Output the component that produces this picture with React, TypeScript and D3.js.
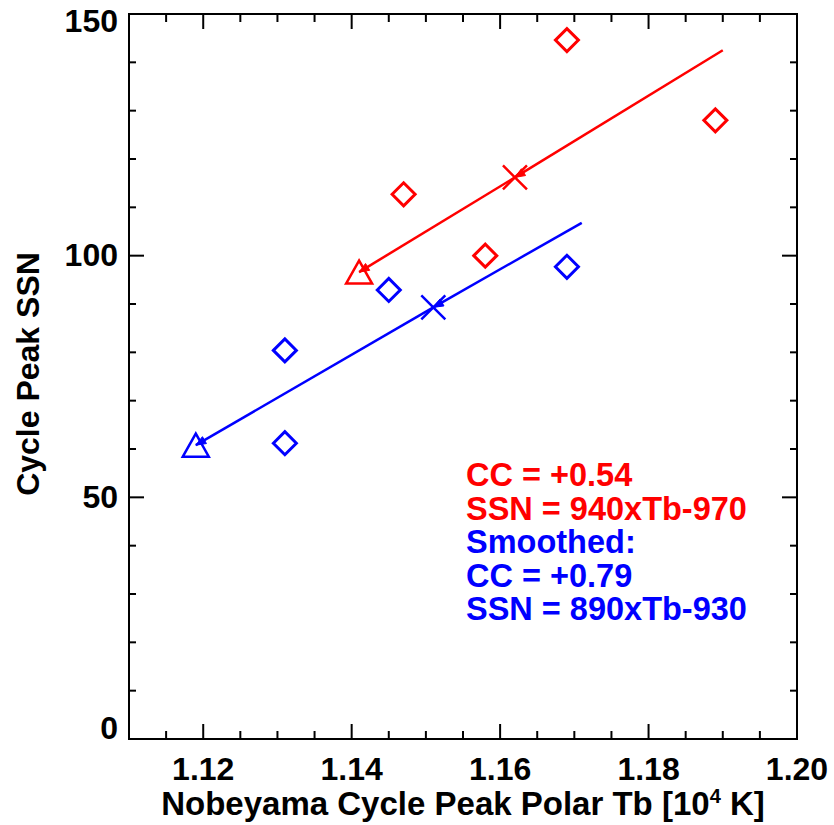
import React from "react";
import * as d3 from "d3";

// Values
const redTb = [1.147, 1.158, 1.169, 1.189];
const redSSN = [112.7, 100.0, 144.6, 128.0];
const blueTb = [1.131, 1.131, 1.145, 1.169];
const blueSSN = [80.4, 61.2, 92.9, 97.7];

// fit line: upper end, mean (X) and lower end (triangle)
const redFitTb = [1.19, 1.162, 1.141];
const redFitSSN = [142.5, 116.2, 96.6];
const blueFitTb = [1.171, 1.151, 1.119];
const blueFitSSN = [106.8, 89.3, 60.8];

const xTicks = [1.12, 1.14, 1.16, 1.18, 1.2];
const yTicks = [0, 50, 100, 150];

const redNotes = ["CC = +0.54", "SSN = 940xTb-970"];
const blueNotes = ["Smoothed:", "CC = +0.79", "SSN = 890xTb-930"];

const W = 834;
const H = 825;
const margin = { top: 14, right: 37, bottom: 86, left: 129 };
const FONT = "'Liberation Sans', Arial, Helvetica, sans-serif";
const RED = "#ff0000";
const BLUE = "#0000ff";

const x = d3.scaleLinear().domain([1.11, 1.2]).range([margin.left, W - margin.right]);
const y = d3.scaleLinear().domain([0, 150]).range([H - margin.bottom, margin.top]);

const xMinor = d3.range(0, 19).map((i) => 1.11 + i * 0.005);
const yMinor = d3.range(0, 16).map((i) => i * 10);

const diamond = (cx: number, cy: number, r = 11.5) =>
  `M${cx - r},${cy}L${cx},${cy - r}L${cx + r},${cy}L${cx},${cy + r}Z`;

const triangle = (cx: number, cy: number) =>
  `M${cx - 13},${cy + 11.5}L${cx},${cy - 11.5}L${cx + 13},${cy + 11.5}Z`;

const cross = (cx: number, cy: number, r = 12) =>
  `M${cx - r},${cy - r}L${cx + r},${cy + r}M${cx - r},${cy + r}L${cx + r},${cy - r}`;

const arrowHead = (x0: number, y0: number, x1: number, y1: number) => {
  const a = Math.atan2(y1 - y0, x1 - x0);
  const len = 10;
  const w = 4;
  const bx = x1 - len * Math.cos(a);
  const by = y1 - len * Math.sin(a);
  const px = -Math.sin(a) * w;
  const py = Math.cos(a) * w;
  return `M${x1},${y1}L${bx + px},${by + py}L${bx - px},${by - py}Z`;
};

const FitArrows: React.FC<{ tb: number[]; ssn: number[]; color: string }> = ({ tb, ssn, color }) => {
  const pts = tb.map((t, i) => [x(t), y(ssn[i])] as [number, number]);
  const segs = [
    [pts[0], pts[1]],
    [pts[1], pts[2]],
  ];
  return (
    <g stroke={color} fill={color}>
      {segs.map(([a, b], i) => (
        <g key={i}>
          <line x1={a[0]} y1={a[1]} x2={b[0]} y2={b[1]} strokeWidth={2.5} />
          <path d={arrowHead(a[0], a[1], b[0], b[1])} strokeWidth={1} />
        </g>
      ))}
      <path d={cross(pts[1][0], pts[1][1])} fill="none" strokeWidth={2.5} />
      <path d={triangle(pts[2][0], pts[2][1])} fill="none" strokeWidth={2.5} />
    </g>
  );
};

const App: React.FC = () => {
  const plotTop = margin.top;
  const plotBottom = H - margin.bottom;
  const plotLeft = margin.left;
  const plotRight = W - margin.right;

  return (
    <svg
      width={W}
      height={H}
      style={{ position: "absolute", left: 0, top: 0, background: "#fff" }}
      fontFamily={FONT}
      fontWeight="bold"
    >
      <rect width={W} height={H} fill="#fff" />

      {/* ticks on all four sides */}
      <g stroke="#000" strokeWidth={2}>
        {xMinor.map((t, i) => {
          const major = xTicks.some((m) => Math.abs(m - t) < 1e-6);
          const len = major ? 15 : 8;
          return (
            <g key={i}>
              <line x1={x(t)} x2={x(t)} y1={plotBottom} y2={plotBottom - len} />
              <line x1={x(t)} x2={x(t)} y1={plotTop} y2={plotTop + len} />
            </g>
          );
        })}
        {yMinor.map((t, i) => {
          const major = yTicks.includes(t);
          const len = major ? 15 : 7;
          return (
            <g key={i}>
              <line y1={y(t)} y2={y(t)} x1={plotLeft} x2={plotLeft + len} />
              <line y1={y(t)} y2={y(t)} x1={plotRight} x2={plotRight - len} />
            </g>
          );
        })}
        <rect
          x={plotLeft}
          y={plotTop}
          width={plotRight - plotLeft}
          height={plotBottom - plotTop}
          fill="none"
        />
      </g>

      {/* tick labels */}
      <g fontSize={32} fill="#000">
        {xTicks.map((t) => (
          <text key={t} x={x(t)} y={780} textAnchor="middle">
            {t.toFixed(2)}
          </text>
        ))}
        {yTicks.map((t) => (
          <text
            key={t}
            x={118}
            y={Math.min(Math.max(y(t) + 10.5, plotTop + 18), plotBottom)}
            textAnchor="end"
          >
            {t}
          </text>
        ))}
      </g>

      {/* axis titles */}
      <text x={(plotLeft + plotRight) / 2} y={815} fontSize={33} textAnchor="middle">
        Nobeyama Cycle Peak Polar Tb [10
        <tspan dy={-12} fontSize={20}>
          4
        </tspan>
        <tspan dy={12}> K]</tspan>
      </text>
      <text
        transform="translate(39,374) rotate(-90)"
        fontSize={32}
        textAnchor="middle"
      >
        Cycle Peak SSN
      </text>

      {/* fit arrows */}
      <FitArrows tb={redFitTb} ssn={redFitSSN} color={RED} />
      <FitArrows tb={blueFitTb} ssn={blueFitSSN} color={BLUE} />

      {/* data points */}
      <g fill="none" strokeWidth={3}>
        {redTb.map((t, i) => (
          <path key={`r${i}`} d={diamond(x(t), y(redSSN[i]))} stroke={RED} />
        ))}
        {blueTb.map((t, i) => (
          <path key={`b${i}`} d={diamond(x(t), y(blueSSN[i]))} stroke={BLUE} />
        ))}
      </g>

      {/* annotation */}
      <g fontSize={32.5}>
        {redNotes.map((s, i) => (
          <text key={`rn${i}`} x={466} y={486 + i * 33.5} fill={RED}>
            {s}
          </text>
        ))}
        {blueNotes.map((s, i) => (
          <text key={`bn${i}`} x={466} y={486 + (i + 2) * 33.5} fill={BLUE}>
            {s}
          </text>
        ))}
      </g>
    </svg>
  );
};

export default App;
